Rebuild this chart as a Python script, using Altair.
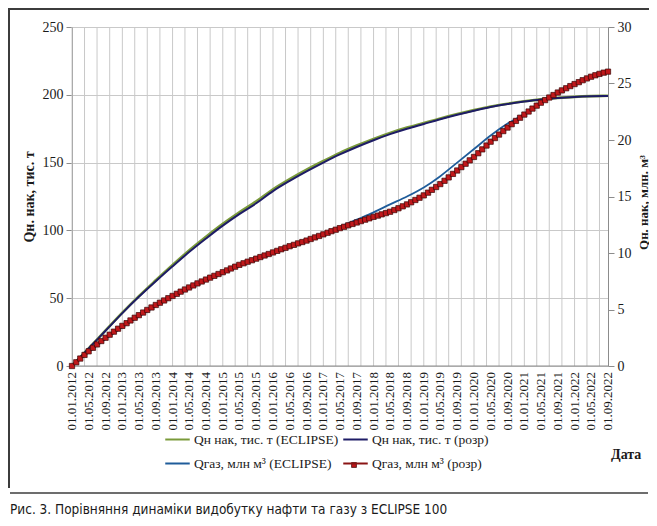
import altair as alt
import pandas as pd

# ---------------- data ----------------
tick_labels = [
    "01.01.2012", "01.05.2012", "01.09.2012",
    "01.01.2013", "01.05.2013", "01.09.2013",
    "01.01.2014", "01.05.2014", "01.09.2014",
    "01.01.2015", "01.05.2015", "01.09.2015",
    "01.01.2016", "01.05.2016", "01.09.2016",
    "01.01.2017", "01.05.2017", "01.09.2017",
    "01.01.2018", "01.05.2018", "01.09.2018",
    "01.01.2019", "01.05.2019", "01.09.2019",
    "01.01.2020", "01.05.2020", "01.09.2020",
    "01.01.2021", "01.05.2021", "01.09.2021",
    "01.01.2022", "01.05.2022", "01.09.2022",
]
# monthly dates from 01.01.2012 to 01.09.2022 (129 months)
months = pd.date_range("2012-01-01", "2022-09-01", freq="MS").strftime("%Y-%m-%d").tolist()
# labelled dates (every 4 months) and gridline dates (every 3 months)
tick_dates = ["%s-%s-%s" % (t[6:], t[3:5], t[0:2]) for t in tick_labels]
grid_dates = months[::3]

S1 = "Qн нак, тис. т (ECLIPSE)"
S2 = "Qн нак, тис. т (розр)"
S3 = "Qгаз, млн м³ (ECLIPSE)"
S4 = "Qгаз, млн м³ (розр)"
series_names = [S1, S2, S3, S4]
series_colors = ["#7A9A3A", "#1E1C66", "#1F5C9A", "#8A1414"]

# oil, thousand t (left axis) - values at tick dates
oil_eclipse = [0, 13, 26.2, 39.3, 51.5, 63.2, 74.5, 85.2, 95.3, 104.8, 113.3,
               121.4, 130.3, 137.8, 144.8, 151.2, 157.2, 162.6, 167.5, 171.9,
               175.8, 179.2, 182.6, 185.8, 188.7, 191.3, 193.4, 195.2, 196.6,
               197.7, 198.5, 199.0, 199.3]
oil_rozr = [0, 13, 26, 39, 51, 62.5, 73.5, 84, 94, 103.5, 112, 120, 129, 136.5,
            143.5, 150, 156, 161.5, 166.5, 171, 175, 178.5, 182, 185.3, 188.3,
            191, 193.2, 195, 196.5, 197.6, 198.4, 198.9, 199.2]

# gas, mln m3 (right axis) - values at tick dates
gas_eclipse = [0, 1.22, 2.38, 3.43, 4.38, 5.28, 6.08, 6.83, 7.53, 8.18, 8.83,
               9.38, 9.93, 10.48, 11.0, 11.7, 12.3, 12.95, 13.6, 14.3, 15.0,
               15.8, 16.8, 18.0, 19.2, 20.4, 21.45, 22.3, 23.3, 24.2, 24.95,
               25.6, 26.05]
# monthly values
gas_rozr = [
    0.00, 0.33, 0.66, 0.98, 1.30, 1.61, 1.91, 2.21, 2.50, 2.77,
    3.04, 3.30, 3.55, 3.79, 4.03, 4.27, 4.50, 4.73, 4.96, 5.18,
    5.40, 5.60, 5.80, 6.00, 6.20, 6.39, 6.58, 6.77, 6.95, 7.13,
    7.31, 7.48, 7.65, 7.82, 7.98, 8.14, 8.30, 8.46, 8.63, 8.79,
    8.95, 9.09, 9.23, 9.36, 9.50, 9.64, 9.78, 9.91, 10.05, 10.19,
    10.33, 10.46, 10.60, 10.72, 10.85, 10.97, 11.10, 11.24, 11.38, 11.51,
    11.65, 11.79, 11.93, 12.06, 12.20, 12.32, 12.45, 12.57, 12.70, 12.82,
    12.95, 13.07, 13.20, 13.31, 13.42, 13.53, 13.65, 13.80, 13.96, 14.13,
    14.30, 14.49, 14.69, 14.89, 15.10, 15.34, 15.59, 15.84, 16.10, 16.39,
    16.69, 17.00, 17.30, 17.60, 17.90, 18.20, 18.50, 18.83, 19.17, 19.51,
    19.85, 20.17, 20.48, 20.79, 21.10, 21.40, 21.69, 21.97, 22.25, 22.52,
    22.78, 23.04, 23.30, 23.53, 23.76, 23.98, 24.20, 24.39, 24.58, 24.77,
    24.95, 25.12, 25.29, 25.45, 25.60, 25.73, 25.85, 25.96, 26.05,
]

left_ticks = [0, 50, 100, 150, 200, 250]
right_ticks = [0, 5, 10, 15, 20, 25, 30]
x_title = "Дата"
caption = "Рис. 3. Порівняння динаміки видобутку нафти та газу з ECLIPSE 100"

# ---------------- styling ----------------
SERIF = "Liberation Serif"
NARROW = "DejaVu Sans Condensed"
W, H = 536, 339
AX = "#8C8C8C"
TXT = "#1A1A1A"
MARK_FILL = "#C0181B"
MARK_EDGE = "#3A0606"


def dt(s):
    y, m, d = s.split("-")
    return alt.DateTime(year=int(y), month=int(m), date=int(d), utc=True)


x_scale = alt.Scale(type="utc", domain=[dt(months[0]), dt(months[-1])], nice=False)
xn = alt.X("d:T", scale=x_scale, axis=None)

legend = alt.Legend(orient="none", legendX=92, legendY=399, columns=2,
                    direction="horizontal",
                    title=None, symbolType="stroke", symbolSize=600,
                    symbolStrokeWidth=2, labelFont=SERIF, labelFontSize=13.5,
                    labelColor=TXT, columnPadding=0, rowPadding=4,
                    labelOffset=3, labelLimit=400)


def color():
    return alt.Color("s:N", scale=alt.Scale(domain=series_names,
                                            range=series_colors),
                     legend=legend)


yl_scale = alt.Scale(domain=[0, 250], nice=False)
yl_axis = alt.Axis(values=left_ticks, grid=True, gridColor="#C9C9C9",
                   gridWidth=1, tickSize=6, tickColor=AX, domainColor=AX,
                   labelFont=SERIF, labelFontSize=14, labelColor=TXT,
                   labelPadding=3, title="Qн. нак, тис. т", titleFont=SERIF,
                   titleFontSize=14, titleFontWeight="bold", titleColor=TXT,
                   titlePadding=6)
yr_scale = alt.Scale(domain=[0, 30], nice=False)
yr_axis = alt.Axis(orient="right", values=right_ticks, grid=False,
                   tickSize=6, tickColor=AX, domainColor=AX,
                   labelFont=SERIF, labelFontSize=14, labelColor=TXT,
                   labelPadding=3, title="Qн. нак, млн. м³", titleFont=SERIF,
                   titleFontSize=13, titleFontWeight="bold", titleColor=TXT,
                   titleAngle=270, titleX=35, titleY=175, titleAlign="center",
                   titleBaseline="middle")

# ---------------- tables ----------------
df_oil1 = pd.DataFrame({"d": tick_dates, "v": oil_eclipse, "s": S1})
df_oil2 = pd.DataFrame({"d": tick_dates, "v": oil_rozr, "s": S2})
df_gas1 = pd.DataFrame({"d": tick_dates, "v": gas_eclipse, "s": S3})
df_gas2 = pd.DataFrame({"d": months, "v": gas_rozr, "s": S4})
df_grid = pd.DataFrame({"d": grid_dates})
df_ticks = pd.DataFrame({"d": tick_dates, "t": tick_labels})

# vertical gridlines every 3 months
grid_rules = alt.Chart(df_grid).mark_rule(color="#C9C9C9", strokeWidth=1).encode(
    x=xn, y=alt.value(0), y2=alt.value(H))

# date labels (every 4 months), placed through the x scale
date_labels = alt.Chart(df_ticks).mark_text(
    angle=270, align="right", baseline="middle", font=SERIF, fontSize=13,
    color=TXT).encode(x=xn, y=alt.value(H + 6), text="t:N")

# bottom axis line
x_domain = alt.Chart(pd.DataFrame({"d": [months[0]], "d2": [months[-1]]})).mark_rule(
    color=AX, strokeWidth=1).encode(x=xn, x2="d2:T", y=alt.value(H))

x_title_mark = alt.Chart(pd.DataFrame({"t": [x_title]})).mark_text(
    align="left", baseline="middle", font=SERIF, fontSize=14,
    fontWeight="bold", color=TXT).encode(
    x=alt.value(539), y=alt.value(H + 89), text="t:N")

oil_ecl = alt.Chart(df_oil1).mark_line(strokeWidth=2.6, interpolate="monotone").encode(
    x=xn, y=alt.Y("v:Q", scale=yl_scale, axis=yl_axis), color=color())
oil_roz = alt.Chart(df_oil2).mark_line(strokeWidth=2, interpolate="monotone").encode(
    x=xn, y=alt.Y("v:Q", scale=yl_scale, axis=yl_axis), color=color())

gas_ecl = alt.Chart(df_gas1).mark_line(strokeWidth=1.8, interpolate="monotone").encode(
    x=xn, y=alt.Y("v:Q", scale=yr_scale, axis=yr_axis), color=color())
gas_roz = alt.Chart(df_gas2).mark_line(strokeWidth=1.5).encode(
    x=xn, y=alt.Y("v:Q", scale=yr_scale, axis=yr_axis), color=color())
gas_pts = alt.Chart(df_gas2).mark_point(shape="square", size=28, filled=True,
                                        fill=MARK_FILL, stroke=MARK_EDGE,
                                        strokeWidth=0.7, opacity=1).encode(
    x=xn, y=alt.Y("v:Q", scale=yr_scale, axis=yr_axis))

oil_layer = alt.layer(oil_ecl, oil_roz)
gas_layer = alt.layer(gas_ecl, gas_roz, gas_pts)

one = pd.DataFrame({"k": [0]})
# marker drawn on the legend symbol of the calculated gas series
legend_marker = alt.Chart(one).mark_point(shape="square", size=24, filled=True,
                                          fill=MARK_FILL, stroke=MARK_EDGE,
                                          strokeWidth=0.7, opacity=1).encode(
    x=alt.value(282), y=alt.value(438))
frame_top = alt.Chart(one).mark_rule(color="#3C3C3C", strokeWidth=2).encode(
    x=alt.value(-64), x2=alt.value(577), y=alt.value(-18))
frame_left = alt.Chart(one).mark_rule(color="#3C3C3C", strokeWidth=2).encode(
    x=alt.value(-63), y=alt.value(-18), y2=alt.value(461))
sep = alt.Chart(one).mark_rule(color="#3C3C3C", strokeWidth=1.5).encode(
    x=alt.value(-62), x2=alt.value(576), y=alt.value(466))
cap = alt.Chart(pd.DataFrame({"t": [caption]})).mark_text(
    align="left", baseline="alphabetic", font=NARROW, fontSize=13.5,
    color=TXT).encode(x=alt.value(-62), y=alt.value(487), text="t:N")

chart = alt.layer(grid_rules, x_domain, date_labels, x_title_mark, oil_layer,
                  gas_layer, legend_marker, frame_top, frame_left, sep, cap).resolve_scale(
    y="independent"
).properties(
    width=W, height=H,
    autosize=alt.AutoSizeParams(type="none"),
    padding={"left": 64, "top": 19, "right": 41, "bottom": 152},
).configure_view(stroke=None).configure(background="white")

chart.save("out.html", embed_options={"renderer": "svg", "actions": False})
